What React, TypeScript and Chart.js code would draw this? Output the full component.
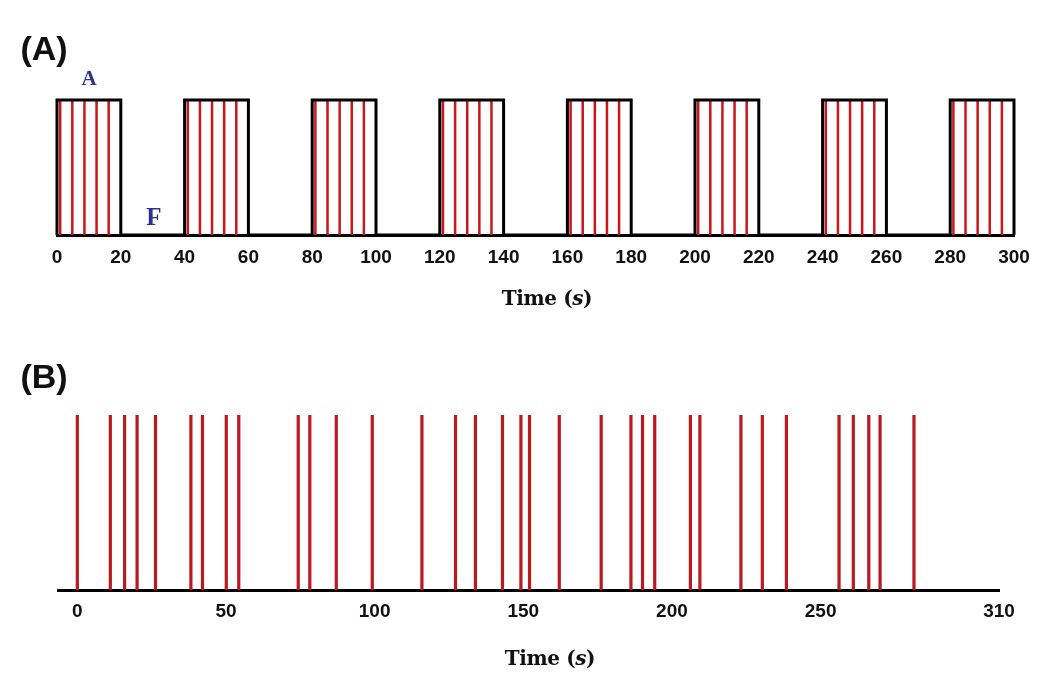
import React, { useEffect, useRef } from "react";
import { Chart, registerables } from "chart.js";

Chart.register(...registerables);

// ---- Panel A data ----
const blockStarts = [0, 40, 80, 120, 160, 200, 240, 280];
const blockEnds = [20, 60, 100, 140, 180, 220, 260, 300];
const stimTimesA = [
  1, 4.8, 8.6, 12.4, 16.2,
  41, 44.8, 48.6, 52.4, 56.2,
  81, 84.8, 88.6, 92.4, 96.2,
  121, 124.8, 128.6, 132.4, 136.2,
  161, 164.8, 168.6, 172.4, 176.2,
  201, 204.8, 208.6, 212.4, 216.2,
  241, 244.8, 248.6, 252.4, 256.2,
  281, 284.8, 288.6, 292.4, 296.2,
];
const ticksA = [0, 20, 40, 60, 80, 100, 120, 140, 160, 180, 200, 220, 240, 260, 280, 300];

// ---- Panel B data ----
const spikeTimesB = [
  0, 11.1, 15.9, 20.1, 26.3, 38.2, 42.1, 50.1, 54.3, 74.3, 78.2, 87.1,
  99.2, 115.9, 127.2, 133.9, 143, 149.2, 152.1, 162.1, 176.2, 186.2, 190.1, 194.2,
  206.2, 209.4, 223.2, 230.4, 238.5, 256.2, 261, 266.2, 270, 281.4,
];
const ticksB = [0, 50, 100, 150, 200, 250, 310];

const RED = "#c8161d";

function spikeSegments(times: number[]) {
  const pts: { x: number; y: number | null }[] = [];
  for (const t of times) {
    pts.push({ x: t, y: 0 }, { x: t, y: 1 }, { x: t, y: null });
  }
  return pts;
}

function squareWave(starts: number[], ends: number[]) {
  const pts: { x: number; y: number }[] = [];
  for (let i = 0; i < starts.length; i++) {
    pts.push({ x: starts[i], y: 0 }, { x: starts[i], y: 1 }, { x: ends[i], y: 1 }, { x: ends[i], y: 0 });
  }
  return pts;
}

function xScale(min: number, max: number, tickVals: number[], pad: number) {
  return {
    type: "linear" as const,
    min,
    max,
    afterBuildTicks: (s: any) => {
      s.ticks = tickVals.map((v) => ({ value: v }));
    },
    afterFit: (s: any) => {
      s.height = 50;
    },
    grid: { display: false, drawTicks: false },
    border: { display: true, color: "#000", width: 3 },
    ticks: {
      autoSkip: false,
      maxRotation: 0,
      padding: pad,
      color: "#111",
      font: { size: 19, family: "Liberation Sans", weight: "bold" },
    },
  };
}

export default function App() {
  const refA = useRef<HTMLCanvasElement>(null);
  const refB = useRef<HTMLCanvasElement>(null);

  useEffect(() => {
    const chartA = new Chart(refA.current!, {
      type: "line",
      data: {
        datasets: [
          {
            data: squareWave(blockStarts, blockEnds),
            borderColor: "#000",
            borderWidth: 3,
            pointRadius: 0,
            tension: 0,
            order: 0,
            clip: false,
            borderJoinStyle: "miter",
            fill: false,
          } as any,
          {
            data: spikeSegments(stimTimesA),
            borderColor: RED,
            borderWidth: 2.5,
            pointRadius: 0,
            tension: 0,
            order: 1,
            clip: false,
            fill: false,
          } as any,
        ],
      },
      options: {
        animation: false,
        responsive: false,
        maintainAspectRatio: false,
        events: [],
        layout: { padding: { left: 57, right: 36, top: 100, bottom: 15 } },
        plugins: { legend: { display: false }, tooltip: { enabled: false } },
        scales: {
          x: xScale(0, 300, ticksA, 11) as any,
          y: { display: false, min: 0, max: 1 },
        },
      },
    });

    const chartB = new Chart(refB.current!, {
      type: "line",
      data: {
        datasets: [
          {
            data: spikeSegments(spikeTimesB),
            borderColor: "#b81a20",
            borderWidth: 3.2,
            pointRadius: 0,
            tension: 0,
            clip: false,
            fill: false,
          } as any,
        ],
      },
      options: {
        animation: false,
        responsive: false,
        maintainAspectRatio: false,
        events: [],
        layout: { padding: { left: 58, right: 51, top: 85, bottom: 46 } },
        plugins: { legend: { display: false }, tooltip: { enabled: false } },
        scales: {
          x: xScale(-6.5, 310, ticksB, 10) as any,
          y: { display: false, min: 0, max: 1 },
        },
      },
    });

    return () => {
      chartA.destroy();
      chartB.destroy();
    };
  }, []);

  const abs = (x: number, y: number): React.CSSProperties => ({
    position: "absolute",
    left: x,
    top: y,
    transform: "translate(-50%, -50%)",
    lineHeight: 1,
    whiteSpace: "nowrap",
  });

  const panelLabel: React.CSSProperties = {
    fontFamily: "Liberation Sans",
    fontWeight: "bold",
    fontSize: 34,
    color: "#111",
  };
  const timeLabel: React.CSSProperties = {
    fontFamily: "DejaVu Serif",
    fontWeight: "bold",
    fontSize: 20,
    letterSpacing: -0.4,
    color: "#111",
  };
  const blueLabel: React.CSSProperties = {
    fontFamily: "Liberation Serif",
    fontWeight: "bold",
    color: "#2e3192",
  };

  return (
    <div style={{ position: "absolute", left: 0, top: 0, width: 1050, height: 686, background: "#fff", overflow: "hidden" }}>
      <canvas ref={refA} width={1050} height={300} style={{ position: "absolute", left: 0, top: 0, display: "block" }} />
      <canvas ref={refB} width={1050} height={356} style={{ position: "absolute", left: 0, top: 330, display: "block" }} />
      <div style={{ ...abs(44, 48), ...panelLabel }}>(A)</div>
      <div style={{ ...abs(44, 376), ...panelLabel }}>(B)</div>
      <div style={{ ...abs(89, 78), ...blueLabel, fontSize: 21 }}>A</div>
      <div style={{ ...abs(154, 216), ...blueLabel, fontSize: 25 }}>F</div>
      <div style={{ ...abs(547, 298), ...timeLabel }}>
        Time (<i>s</i>)
      </div>
      <div style={{ ...abs(550, 658), ...timeLabel }}>
        Time (<i>s</i>)
      </div>
    </div>
  );
}
